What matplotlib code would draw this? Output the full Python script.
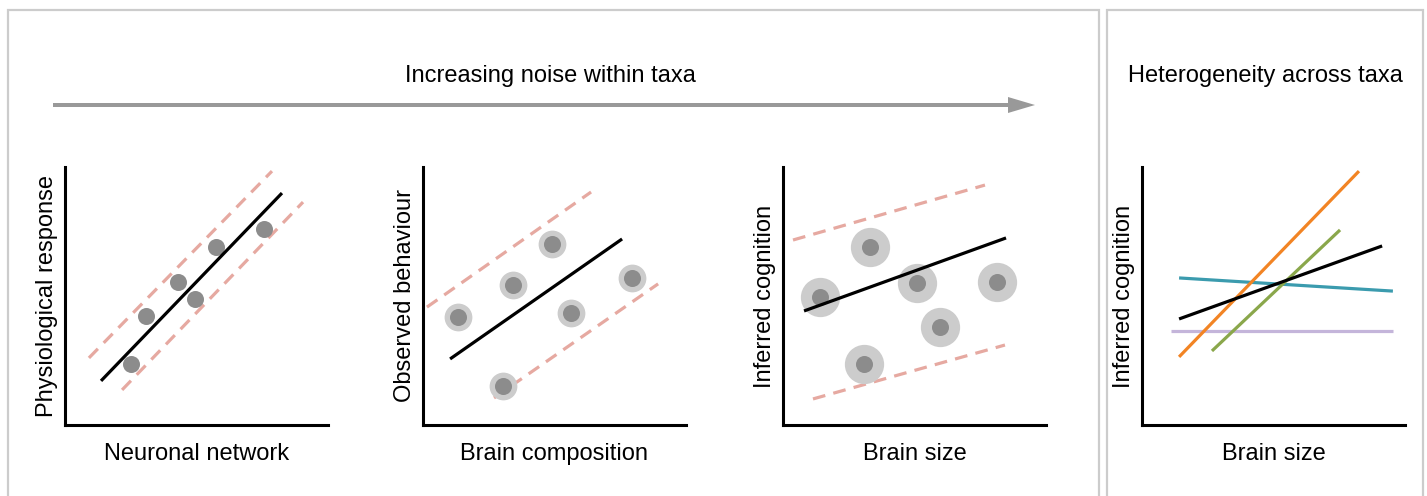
import matplotlib.pyplot as plt
import matplotlib.patches as mpatches

plt.rcParams['font.family'] = ['Liberation Sans', 'DejaVu Sans']

W = 1427
H = 496
DPI = 100
FONT_SIZE = 17

BLACK_LW = 2.3
DASH_COLOUR = '#e6a9a1'
DOT_COLOUR = '#8c8c8c'
HALO_COLOUR = '#cccccc'
BOX_COLOUR = '#cccccc'
ARROW_COLOUR = '#999999'

# left edge (px) of the four plot areas
AX_LEFTS = [65, 423, 783, 1142]
AX_TOP = 167
AX_BOTTOM = 425
AX_WIDTH = 263

XLABELS = ['Neuronal network', 'Brain composition', 'Brain size', 'Brain size']
YLABELS = ['Physiological response', 'Observed behaviour', 'Inferred cognition', 'Inferred cognition']

# panel 1: neuronal network
p1_x = [2.51, 3.08, 4.30, 4.94, 5.74, 7.57]
p1_y = [2.36, 4.22, 5.54, 4.88, 6.90, 7.60]
p1_fit_x = [1.37, 8.25]
p1_fit_y = [1.71, 8.99]
p1_upper_x = [0.91, 7.87]
p1_upper_y = [2.60, 9.84]
p1_lower_x = [2.17, 9.05]
p1_lower_y = [1.36, 8.64]

# panel 2: brain composition
p2_x = [1.33, 3.42, 4.90, 5.63, 7.95, 3.04]
p2_y = [4.19, 5.43, 7.02, 4.34, 5.70, 1.51]
p2_fit_x = [1.03, 7.57]
p2_fit_y = [2.56, 7.21]
p2_upper_x = [0.15, 6.39]
p2_upper_y = [4.57, 9.03]
p2_lower_x = [2.70, 8.94]
p2_lower_y = [1.05, 5.47]

# panel 3: brain size
p3_x = [1.41, 3.31, 5.10, 5.97, 8.14, 3.08]
p3_y = [4.96, 6.90, 5.50, 3.80, 5.54, 2.36]
p3_fit_x = [0.80, 8.48]
p3_fit_y = [4.42, 7.25]
p3_upper_x = [0.38, 7.68]
p3_upper_y = [7.17, 9.30]
p3_lower_x = [1.14, 8.44]
p3_lower_y = [1.01, 3.10]

# panel 4: slopes of different taxa
taxa_colours = ['#3b9bae', '#c4b5da', '#f28424', '#8aa74b', 'black']
taxa_x = [[1.41, 9.54], [1.10, 9.54], [1.41, 8.25], [2.66, 7.53], [1.41, 9.13]]
taxa_y = [[5.70, 5.19], [3.64, 3.64], [2.64, 9.84], [2.87, 7.56], [4.11, 6.94]]

HALO_SIZES = [0, 400, 800]
DOT_SIZE = 150


def make_axes(fig, left, xlabel, ylabel):
    rect = [left / W, (H - AX_BOTTOM) / H, AX_WIDTH / W, (AX_BOTTOM - AX_TOP) / H]
    ax = fig.add_axes(rect)
    ax.set_xlim(0, 10)
    ax.set_ylim(0, 10)
    ax.set_xticks([])
    ax.set_yticks([])
    ax.spines['right'].set_visible(False)
    ax.spines['top'].set_visible(False)
    ax.spines['left'].set_linewidth(2.2)
    ax.spines['bottom'].set_linewidth(2.2)
    ax.set_xlabel(xlabel, fontsize=FONT_SIZE, labelpad=13)
    ax.set_ylabel(ylabel, fontsize=FONT_SIZE, labelpad=5)
    ax.patch.set_alpha(0)
    return ax


def noise_panel(ax, xs, ys, fit_x, fit_y, up_x, up_y, lo_x, lo_y, halo):
    dash = (0, (4, 2.6))
    ax.plot(up_x, up_y, color=DASH_COLOUR, lw=BLACK_LW, linestyle=dash, zorder=1)
    ax.plot(lo_x, lo_y, color=DASH_COLOUR, lw=BLACK_LW, linestyle=dash, zorder=1)
    if halo:
        ax.scatter(xs, ys, s=halo, color=HALO_COLOUR, linewidths=0, zorder=2)
    ax.scatter(xs, ys, s=DOT_SIZE, color=DOT_COLOUR, linewidths=0, zorder=3)
    ax.plot(fit_x, fit_y, color='black', lw=BLACK_LW, solid_capstyle='butt', zorder=4)


def main():
    fig = plt.figure(figsize=(W / DPI, H / DPI), dpi=DPI)

    # outer boxes
    for (x0, x1) in [(8, 1099), (1107, 1423)]:
        box = mpatches.Rectangle((x0 / W, -0.1), (x1 - x0) / W, (H - 10) / H + 0.1,
                                 transform=fig.transFigure, fill=False,
                                 edgecolor=BOX_COLOUR, lw=1.6)
        fig.add_artist(box)

    # arrow
    arrow = mpatches.FancyArrow(53 / W, (H - 105) / H, (1035 - 53) / W, 0,
                                width=4 / H, head_width=16 / H, head_length=27 / W,
                                length_includes_head=True, transform=fig.transFigure,
                                color=ARROW_COLOUR, lw=0)
    fig.add_artist(arrow)

    fig.text(550 / W, (H - 76) / H, 'Increasing noise within taxa', fontsize=FONT_SIZE,
             ha='center', va='center')
    fig.text(1265 / W, (H - 76) / H, 'Heterogeneity across taxa', fontsize=FONT_SIZE,
             ha='center', va='center')

    axes = [make_axes(fig, AX_LEFTS[i], XLABELS[i], YLABELS[i]) for i in range(4)]

    noise_panel(axes[0], p1_x, p1_y, p1_fit_x, p1_fit_y, p1_upper_x, p1_upper_y,
                p1_lower_x, p1_lower_y, HALO_SIZES[0])
    noise_panel(axes[1], p2_x, p2_y, p2_fit_x, p2_fit_y, p2_upper_x, p2_upper_y,
                p2_lower_x, p2_lower_y, HALO_SIZES[1])
    noise_panel(axes[2], p3_x, p3_y, p3_fit_x, p3_fit_y, p3_upper_x, p3_upper_y,
                p3_lower_x, p3_lower_y, HALO_SIZES[2])

    for (xs, ys, c) in zip(taxa_x, taxa_y, taxa_colours):
        axes[3].plot(xs, ys, color=c, lw=BLACK_LW, solid_capstyle='butt')

    fig.savefig('out.png', dpi=DPI)


main()
